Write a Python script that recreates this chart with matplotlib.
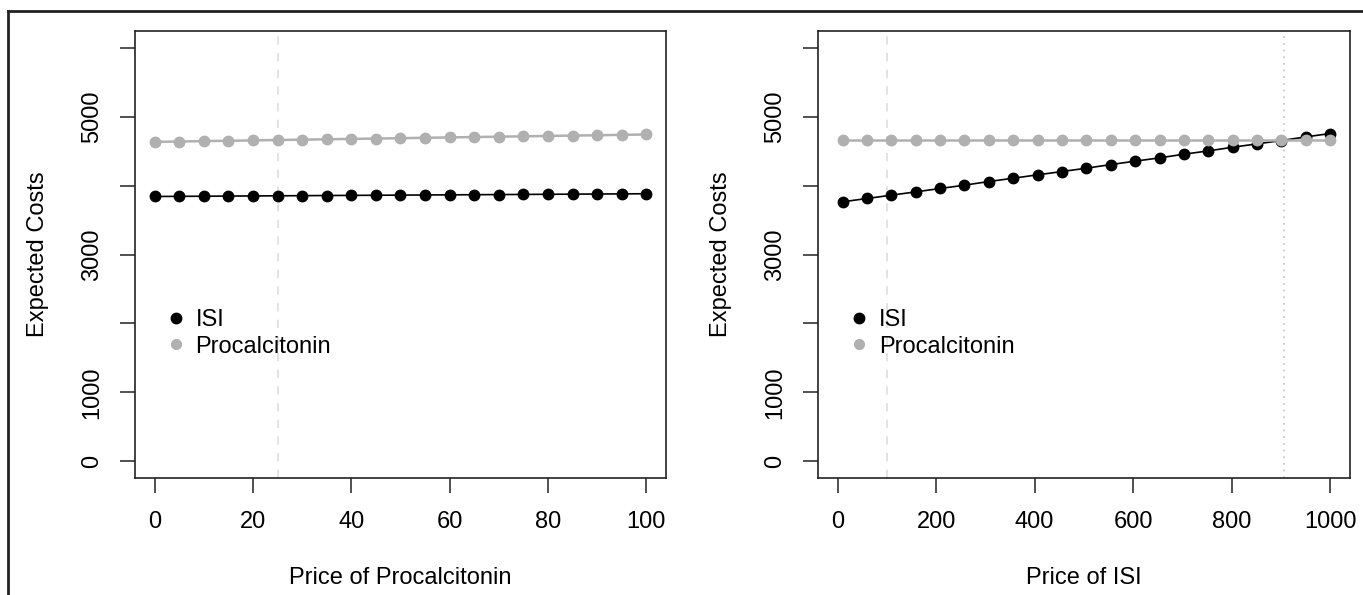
import matplotlib
matplotlib.use("Agg")
import matplotlib.pyplot as plt
from matplotlib.lines import Line2D

plt.rcParams['font.family'] = ['Liberation Sans', 'DejaVu Sans']

# left panel: varying price of procalcitonin
pct_price = [0, 5, 10, 15, 20, 25, 30, 35, 40, 45, 50, 55, 60, 65, 70, 75, 80, 85, 90, 95, 100]
isi_cost_a = [3841, 3843, 3845, 3847, 3849, 3851, 3853, 3855, 3857, 3859, 3861,
              3863, 3865, 3867, 3869, 3871, 3873, 3875, 3877, 3879, 3881]
pct_cost_a = [4633, 4638, 4644, 4649, 4654, 4660, 4665, 4670, 4676, 4681, 4686,
              4692, 4697, 4703, 4708, 4713, 4719, 4724, 4729, 4735, 4740]
pct_base = 25

# right panel: varying price of ISI
isi_price = [10, 59.5, 109, 158.5, 208, 257.5, 307, 356.5, 406, 455.5, 505,
             554.5, 604, 653.5, 703, 752.5, 802, 851.5, 901, 950.5, 1000]
isi_cost_b = [3764, 3812, 3860, 3908, 3957, 4005, 4058, 4106, 4155, 4203, 4251,
              4304, 4353, 4401, 4454, 4502, 4555, 4604, 4652, 4705, 4754]
pct_cost_b = [4667] * 21
isi_base = 100
isi_threshold = 907

yticks = [0, 1000, 2000, 3000, 4000, 5000, 6000]
ytick_labels = ['0', '1000', '', '3000', '', '5000', '']
series_names = ['ISI', 'Procalcitonin']

GREY = '#b0b0b0'
FS = 17

fig = plt.figure(figsize=(13.63, 5.95), dpi=100)
ax1 = fig.add_axes([0.0990, 0.1966, 0.3896, 0.7513])
ax2 = fig.add_axes([0.6001, 0.1966, 0.3903, 0.7513])


def panel(ax, x, isi, pct, xlim, xticks, xlabel, ylab_x):
    ax.plot(x, isi, color='black', lw=1.2, marker='o', ms=7.5, zorder=3)
    ax.plot(x, pct, color=GREY, lw=1.8, marker='o', ms=7.5, mec=GREY, zorder=4)
    span = xlim[1] - xlim[0]
    ax.set_xlim(xlim[0] - 0.04 * span, xlim[1] + 0.04 * span)
    ax.set_ylim(-240, 6240)
    ax.set_xticks(xticks)
    ax.set_yticks(yticks)
    ax.set_yticklabels(ytick_labels, rotation=90, va='center')
    ax.tick_params(axis='both', labelsize=FS, length=11, width=1.1, color='#222222')
    ax.tick_params(axis='x', pad=13)
    ax.tick_params(axis='y', pad=12)
    for s in ax.spines.values():
        s.set_linewidth(1.2)
        s.set_color('#222222')
    ax.set_xlabel(xlabel, fontsize=FS)
    ax.xaxis.set_label_coords(0.5, -0.2235)
    ax.xaxis.label.set_va('center')
    ax.set_ylabel('Expected Costs', fontsize=FS)
    ax.yaxis.set_label_coords(ylab_x, 0.5)
    ax.yaxis.label.set_va('center')
    handles = [Line2D([], [], ls='none', marker='o', color='black', ms=7.5),
               Line2D([], [], ls='none', marker='o', color=GREY, ms=7),
               ]
    ax.legend(handles, series_names, loc='upper left', bbox_to_anchor=(0.032, 0.415),
              frameon=False, fontsize=FS, handlelength=0.6, handletextpad=0.55,
              labelspacing=0.2, borderpad=0.2)


panel(ax1, pct_price, isi_cost_a, pct_cost_a, (0, 100), [0, 20, 40, 60, 80, 100],
      'Price of Procalcitonin', (38 - 135) / 531)
ax1.axvline(pct_base, color='#dedede', lw=1.2, ls=(0, (5, 5)), zorder=1)

panel(ax2, isi_price, isi_cost_b, pct_cost_b, (0, 1000), [0, 200, 400, 600, 800, 1000],
      'Price of ISI', (721 - 818) / 532)
ax2.axvline(isi_base, color='#dedede', lw=1.2, ls=(0, (5, 5)), zorder=1)
ax2.axvline(isi_threshold, color='#c4c4c4', lw=1.2, ls=(0, (1, 3)), zorder=1)

# outer frame (only top and left edges visible)
fx = 8 / 1363
fy = 1 - 11 / 595
fig.add_artist(Line2D([fx, fx], [0, fy], transform=fig.transFigure, color='#222222', lw=2))
fig.add_artist(Line2D([fx, 1], [fy, fy], transform=fig.transFigure, color='#222222', lw=2))

fig.savefig('out.png', dpi=100)
